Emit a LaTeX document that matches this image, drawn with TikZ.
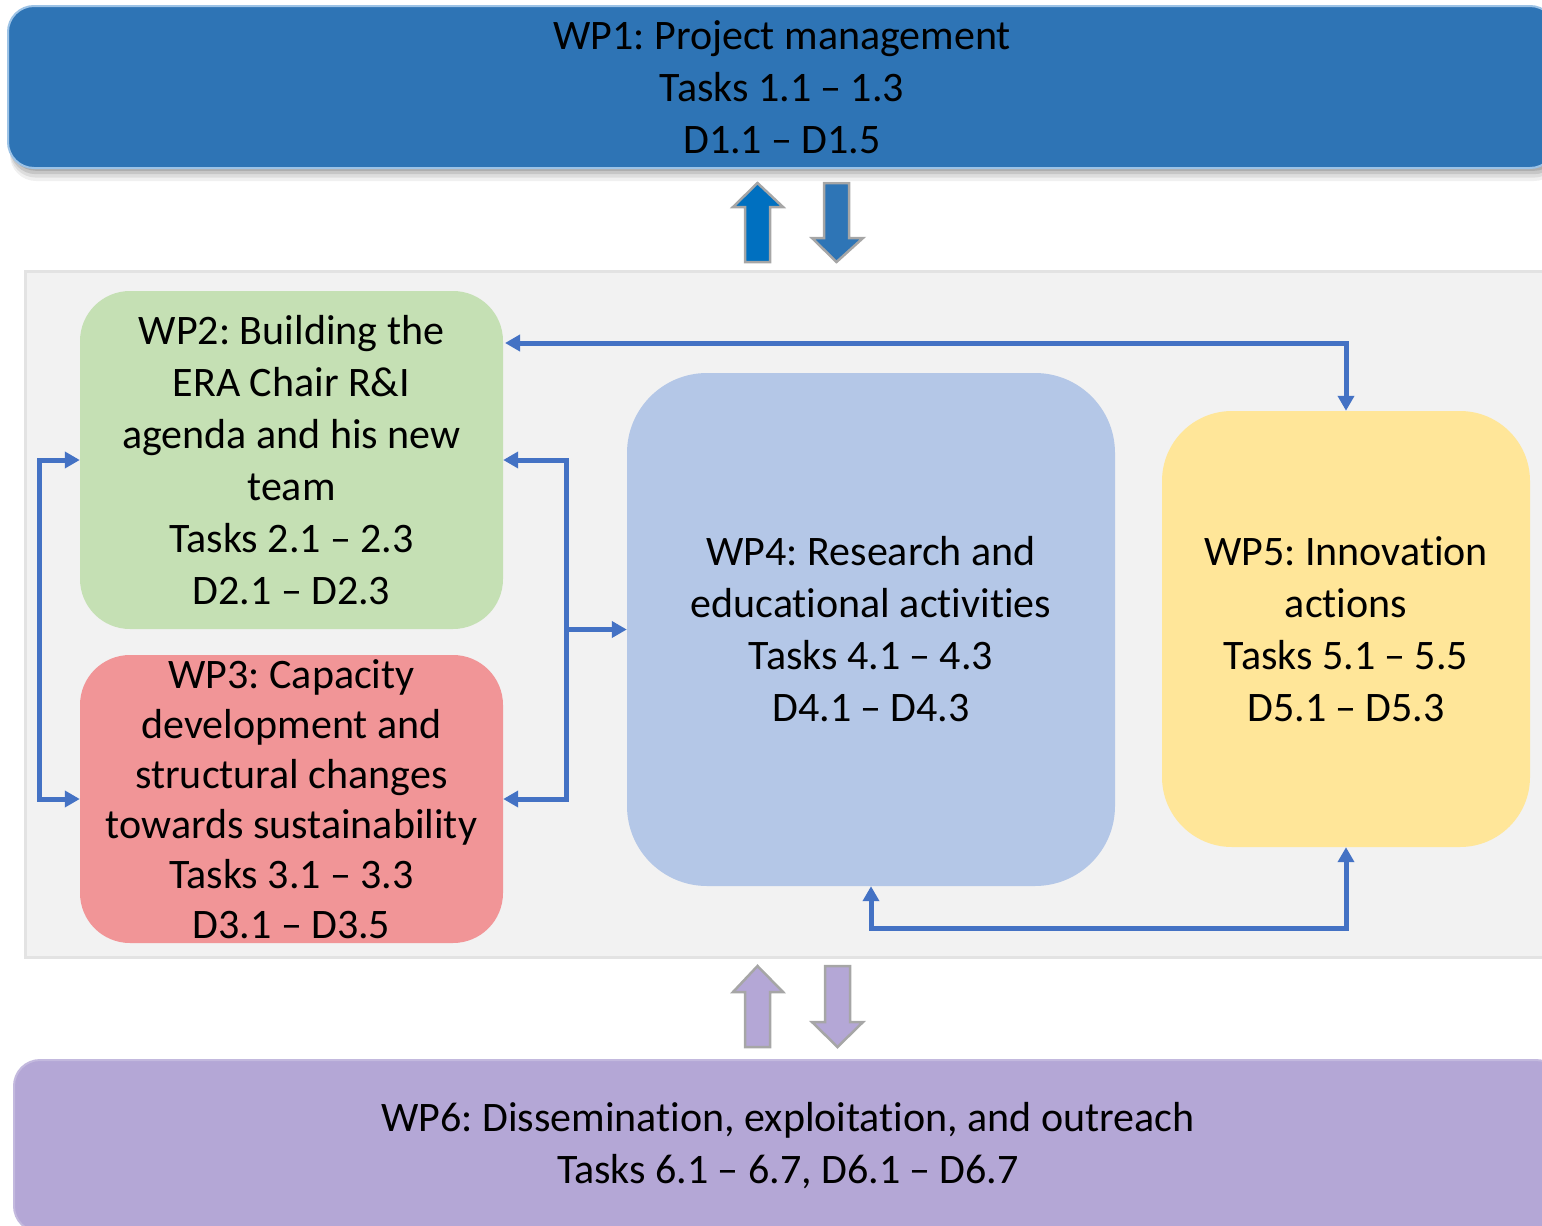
\documentclass[tikz,border=0pt]{standalone}
\usepackage{fontspec}
\setmainfont[Ligatures=NoCommon]{Carlito}
\frenchspacing
\newcommand{\dd}{\kern0.22em–\kern0.22em}
\newcommand{\tI}{t\kern0pt i}
\usetikzlibrary{arrows.meta,calc}
\definecolor{wpone}{HTML}{2E74B5}
\definecolor{wponeline}{HTML}{9DC3E6}
\definecolor{upblue}{HTML}{0070C0}
\definecolor{downblue}{HTML}{2E75B6}
\definecolor{arrline}{HTML}{A6A6A6}
\definecolor{panel}{HTML}{F2F2F2}
\definecolor{panelline}{HTML}{E3E3E3}
\definecolor{wptwo}{HTML}{C5E0B4}
\definecolor{wpthree}{HTML}{F19597}
\definecolor{wpfour}{HTML}{B4C7E7}
\definecolor{wpfive}{HTML}{FFE699}
\definecolor{wpsix}{HTML}{B4A7D6}
\definecolor{conncol}{HTML}{4472C4}
\tikzset{
  wpbox/.style={align=center, inner sep=0pt, text=black,
    font=\fontsize{42}{52}\selectfont},
  conn/.style={draw=conncol, line width=5pt,
    arrows={-}, >={Triangle[length=15pt,width=16pt]}},
  blockarrow/.style={draw=arrline, line width=2.5pt, line join=miter}
}
\begin{document}
\begin{tikzpicture}[x=1pt,y=-1pt]
\useasboundingbox (0,0) rectangle (1542,1226);
% soft shadow under WP1
\foreach \d/\o in {10/0.06,8/0.08,6/0.10,4/0.12}{
  \fill[black, opacity=\o, rounded corners=26pt] (10,{4+\d}) rectangle (1560,{168+\d-4+0.7*\d});
}
% WP1
\node[wpbox, fill=wpone, draw=wponeline, line width=2pt, rounded corners=26pt,
  minimum width=1548pt, minimum height=162pt]
  (wp1) at (782,87) {WP1: Project management\\Tasks 1.1\dd 1.3\\D1.1\dd D1.5};
% top block arrows
\fill[upblue, blockarrow] (757.5,183) -- (783,207) -- (770,207) -- (770,262) -- (745,262) -- (745,207) -- (733,207) -- cycle;
\fill[downblue, blockarrow] (824,183) -- (849,183) -- (849,238) -- (863,238) -- (836.5,262) -- (812,238) -- (824,238) -- cycle;
% panel
\node[fill=panel, draw=panelline, line width=3pt, minimum width=1540pt, minimum height=686pt, inner sep=0pt]
  (panel) at (795,614) {};
% WP boxes
\node[wpbox, fill=wptwo, rounded corners=50pt, minimum width=423pt, minimum height=338pt]
  (wp2) at (291.5,460) {WP2: Building the\\ERA Chair R\&I\\agenda and his new\\team\\Tasks 2.1\dd 2.3\\D2.1\dd D2.3};
\node[wpbox, fill=wpthree, rounded corners=50pt, minimum width=423pt, minimum height=288pt,
  font=\fontsize{42}{50}\selectfont]
  (wp3) at (291.5,799) {WP3: Capacity\\development and\\structural changes\\towards sustainability\\Tasks 3.1\dd 3.3\\D3.1\dd D3.5};
\node[wpbox, fill=wpfour, rounded corners=80pt, minimum width=488pt, minimum height=513pt]
  (wp4) at (871,629.5) {WP4: Research and\\educational ac\tI vi\tI es\\Tasks 4.1\dd 4.3\\D4.1\dd D4.3};
\node[wpbox, fill=wpfive, rounded corners=70pt, minimum width=368pt, minimum height=436pt]
  (wp5) at (1346,629) {WP5: Innova\tI on\\ac\tI ons\\Tasks 5.1\dd 5.5\\D5.1\dd D5.3};
% connectors
\coordinate (topc) at (505,343);
\draw[conn, <->] (topc) -| (wp5.north);
\draw[conn, <->] (wp2.west) -- ++(-40,0) |- (wp3.west);
\coordinate (junc) at (566,629.5);
\draw[conn, <->] (wp2.east) -| (junc) |- (wp3.east);
\draw[conn, ->] (junc) -- (wp4.west);
\draw[conn, <->] (wp4.south) -- ++(0,42) -| (wp5.south);
% bottom block arrows
\fill[wpsix, blockarrow] (757.5,966) -- (783,992) -- (770,992) -- (770,1047) -- (745,1047) -- (745,992) -- (733,992) -- cycle;
\fill[wpsix, blockarrow] (825,966) -- (850,966) -- (850,1022) -- (863,1022) -- (837.5,1047) -- (812,1022) -- (825,1022) -- cycle;
% WP6
\node[wpbox, fill=wpsix, draw=wpsix!80!white, line width=2pt, rounded corners=26pt,
  minimum width=1548pt, minimum height=172pt]
  (wp6) at (788,1146) {WP6: Dissemination, exploita\tI on, and outreach\\Tasks 6.1\dd 6.7, D6.1\dd D6.7};
\end{tikzpicture}
\end{document}
